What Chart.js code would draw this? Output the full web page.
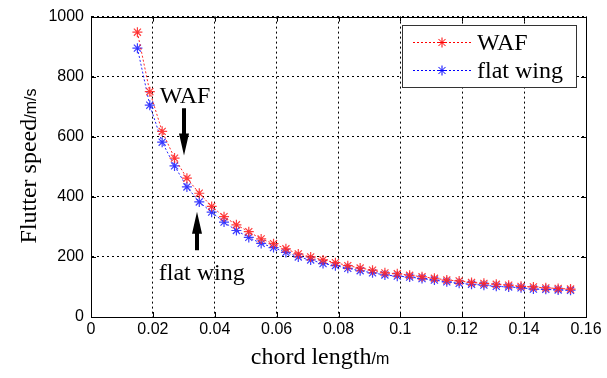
<!DOCTYPE html>
<html><head><meta charset="utf-8">
<script src="https://cdn.jsdelivr.net/npm/chart.js@4/dist/chart.umd.min.js"></script>
<style>html,body{margin:0;padding:0;background:#fff}#wrap{width:607px;height:378px}</style>
</head><body><div id="wrap"><canvas id="c" width="607" height="378"></canvas></div>
<script>
const chordLength = [0.015,0.019,0.023,0.027,0.031,0.035,0.039,0.043,0.047,0.051,0.055,0.059,0.063,0.067,0.071,0.075,0.079,0.083,0.087,0.091,0.095,0.099,0.103,0.107,0.111,0.115,0.119,0.123,0.127,0.131,0.135,0.139,0.143,0.147,0.151,0.155];
const wafSpeed = [948,750,618,529,462,412,368,334,307,284,260,244,227,210,200,190,181,171,163,156,147,144,139,134,129,123,120,115,112,109,106,102,100,97,95,93];
const flatWingSpeed = [895,705,582,503,433,383,349,316,288,265,245,231,215,200,190,178,171,162,154,147,140,136,133,128,123,117,112,109,106,102,100,97,93,92,90,89];
const seriesLabels = ['WAF','flat wing'];
const xTickLabels = ['0','0.02','0.04','0.06','0.08','0.1','0.12','0.14','0.16'];
const yTickLabels = ['0','200','400','600','800','1000'];
const xTitle = ['chord length','/m'];
const yTitle = ['Flutter speed','/m/s'];
const notes = [
  {text:'WAF', x:0.0222, y:714, arrowX:0.0300, from:695, to:538},
  {text:'flat wing', x:0.0219, y:122, arrowX:0.0342, from:222, to:350}
];

const SERIF = '"Liberation Serif", "Times New Roman", serif';
const SANS = '"Liberation Sans", Arial, sans-serif';

function pts(ys){ return chordLength.map((x,i)=>({x:x,y:ys[i]})); }

function starAt(ctx, x, y, r, color){
  ctx.save();
  ctx.strokeStyle = color; ctx.lineWidth = 1; ctx.setLineDash([]);
  ctx.beginPath();
  ctx.moveTo(x-r,y); ctx.lineTo(x+r,y);
  ctx.moveTo(x,y-r); ctx.lineTo(x,y+r);
  const d = r*0.7071;
  ctx.moveTo(x-d,y-d); ctx.lineTo(x+d,y+d);
  ctx.moveTo(x-d,y+d); ctx.lineTo(x+d,y-d);
  ctx.stroke();
  ctx.restore();
}

function arrow(ctx, x, y1, y2){
  // from y1 to tip y2
  const dir = y2 > y1 ? 1 : -1;
  const headLen = 22, headW = 5, shaftW = 2;
  ctx.save();
  ctx.fillStyle = '#000';
  ctx.beginPath();
  ctx.moveTo(x-shaftW, y1);
  ctx.lineTo(x+shaftW, y1);
  ctx.lineTo(x+shaftW, y2 - dir*headLen);
  ctx.lineTo(x+headW, y2 - dir*headLen);
  ctx.lineTo(x, y2);
  ctx.lineTo(x-headW, y2 - dir*headLen);
  ctx.lineTo(x-shaftW, y2 - dir*headLen);
  ctx.closePath();
  ctx.fill();
  ctx.restore();
}

const decor = {
  id:'decor',
  afterDraw(chart){
    const ctx = chart.ctx, a = chart.chartArea;
    const xs = chart.scales.x, ys = chart.scales.y;
    ctx.save();
    // box
    ctx.strokeStyle = '#000'; ctx.lineWidth = 1; ctx.setLineDash([]);
    ctx.strokeRect(Math.round(a.left)+0.5, Math.round(a.top)+0.5, Math.round(a.right-a.left), Math.round(a.bottom-a.top));
    // inside ticks
    ctx.beginPath();
    xs.ticks.forEach(t=>{
      const p = Math.round(xs.getPixelForValue(t.value))+0.5;
      ctx.moveTo(p,a.bottom); ctx.lineTo(p,a.bottom-5);
      ctx.moveTo(p,a.top); ctx.lineTo(p,a.top+5);
    });
    ys.ticks.forEach(t=>{
      const p = Math.round(ys.getPixelForValue(t.value))+0.5;
      ctx.moveTo(a.left,p); ctx.lineTo(a.left+5,p);
      ctx.moveTo(a.right,p); ctx.lineTo(a.right-5,p);
    });
    ctx.stroke();

    // x title
    ctx.fillStyle = '#000';
    ctx.textBaseline = 'alphabetic';
    ctx.font = '24px ' + SERIF;
    const w1 = ctx.measureText(xTitle[0]).width;
    ctx.font = '16px ' + SANS;
    const w2 = ctx.measureText(xTitle[1]).width;
    let sx = 320 - (w1+w2)/2;
    ctx.font = '24px ' + SERIF; ctx.textAlign='left';
    ctx.fillText(xTitle[0], sx, 364);
    ctx.font = '16px ' + SANS;
    ctx.fillText(xTitle[1], sx+w1, 364);

    // y title
    ctx.save();
    ctx.translate(36, 166);
    ctx.rotate(-Math.PI/2);
    ctx.font = '24px ' + SERIF;
    const v1 = ctx.measureText(yTitle[0]).width;
    ctx.font = '16px ' + SANS;
    const v2 = ctx.measureText(yTitle[1]).width;
    let sy = -(v1+v2)/2;
    ctx.font = '24px ' + SERIF;
    ctx.fillText(yTitle[0], sy, 0);
    ctx.font = '16px ' + SANS;
    ctx.fillText(yTitle[1], sy+v1, 0);
    ctx.restore();

    // notes
    notes.forEach(n=>{
      ctx.font = '24px ' + SERIF; ctx.textAlign='left';
      ctx.fillText(n.text, xs.getPixelForValue(n.x), ys.getPixelForValue(n.y));
      arrow(ctx, Math.round(xs.getPixelForValue(n.arrowX)), ys.getPixelForValue(n.from), ys.getPixelForValue(n.to));
    });

    // legend
    const lx = 402, ly = 25, lw = 174, lh = 62;
    ctx.fillStyle = '#fff';
    ctx.fillRect(lx, ly, lw, lh);
    ctx.strokeStyle = '#333'; ctx.lineWidth = 1;
    ctx.strokeRect(lx+0.5, ly+0.5, lw, lh);
    const colors = ['#ff0000','#0000ff'];
    [42, 70].forEach((yy,i)=>{
      ctx.strokeStyle = colors[i]; ctx.setLineDash([2,2]);
      ctx.beginPath(); ctx.moveTo(413, yy+0.5); ctx.lineTo(471, yy+0.5); ctx.stroke();
      ctx.setLineDash([]);
      starAt(ctx, 442, yy+0.5, 5, colors[i]);
      ctx.fillStyle = '#000';
      ctx.font = '24px ' + SERIF;
      ctx.fillText(seriesLabels[i], 477, yy+8);
    });
    ctx.restore();
  }
};

new Chart(document.getElementById('c'), {
  type:'line',
  data:{
    datasets:[
      {label:seriesLabels[0], data:pts(wafSpeed), borderColor:'rgba(255,0,0,0.85)', borderWidth:1, borderDash:[2,2],
       pointStyle:'star', pointRadius:5, pointBorderColor:'rgba(255,40,40,0.9)', pointBorderWidth:1.2, pointBackgroundColor:'#f00', tension:0, fill:false},
      {label:seriesLabels[1], data:pts(flatWingSpeed), borderColor:'rgba(0,0,255,0.85)', borderWidth:1, borderDash:[2,2],
       pointStyle:'star', pointRadius:5, pointBorderColor:'rgba(40,40,255,0.9)', pointBorderWidth:1.2, pointBackgroundColor:'#00f', tension:0, fill:false}
    ]
  },
  options:{
    responsive:false, animation:false, devicePixelRatio:1,
    layout:{padding:{left:0,right:21,top:16,bottom:0}},
    plugins:{legend:{display:false}, tooltip:{enabled:false}},
    scales:{
      x:{type:'linear', min:0, max:0.16,
        afterBuildTicks(s){ s.ticks = xTickLabels.map(v=>({value:parseFloat(v)})); },
        afterFit(s){ s.height = 61; },
        ticks:{callback:(v,i)=>xTickLabels[i], color:'#000', font:{family:SANS, size:16}, padding:3, maxRotation:0, autoSkip:false},
        grid:{color:'#000', lineWidth:1, drawTicks:false},
        border:{display:true, color:'#000', width:1, dash:[2,3]}
      },
      y:{type:'linear', min:0, max:1000,
        afterBuildTicks(s){ s.ticks = yTickLabels.map(v=>({value:parseFloat(v)})); },
        afterFit(s){ s.width = 91; },
        ticks:{callback:(v,i)=>yTickLabels[i], color:'#000', font:{family:SANS, size:16}, padding:7},
        grid:{color:'#000', lineWidth:1, drawTicks:false},
        border:{display:true, color:'#000', width:1, dash:[2,3]}
      }
    }
  },
  plugins:[decor]
});
</script></body></html>
